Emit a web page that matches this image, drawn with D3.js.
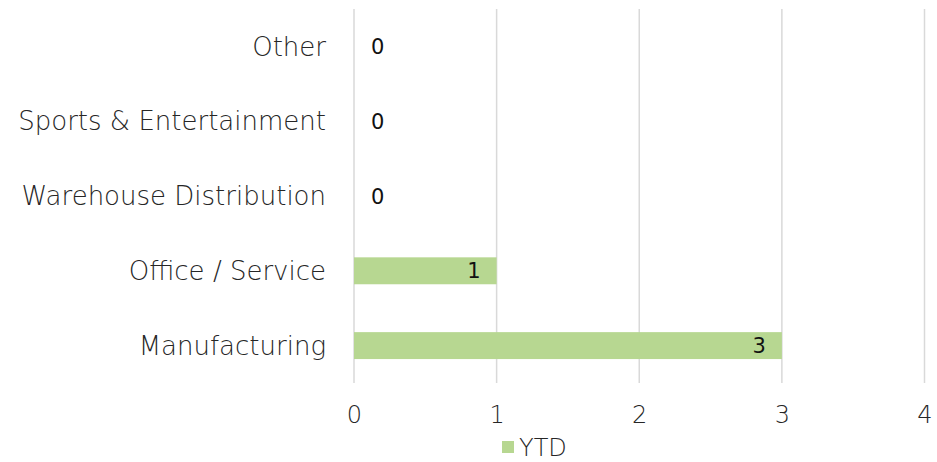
<!DOCTYPE html>
<html>
<head>
<meta charset="utf-8">
<script src="https://cdn.jsdelivr.net/npm/d3@7"></script>
<style>
  body { margin: 0; background: #fff; }
  svg text { font-family: "DejaVu Sans", sans-serif; font-weight: 200; fill: #262626; }
  svg text.val { font-family: "DejaVu Sans", Verdana, sans-serif; font-weight: 400; fill: #111; }
</style>
</head>
<body>
<div id="chart"></div>
<script>
// Data, top to bottom
const categories = ["Other", "Sports & Entertainment", "Warehouse Distribution", "Office / Service", "Manufacturing"];
const ytd = [0, 0, 0, 1, 3];
const xTicks = [0, 1, 2, 3, 4];
const seriesName = "YTD";

const width = 937;
const height = 462;
const plot = { left: 354, right: 924.5, top: 9, bottom: 383 };

const svg = d3.select("#chart")
  .append("svg")
  .attr("width", width)
  .attr("height", height);

const xScale = d3.scaleLinear()
  .domain([0, 4])
  .range([plot.left, plot.right]);

const yScale = d3.scaleBand()
  .domain(categories)
  .range([plot.top, plot.bottom])
  .paddingInner(0.64)
  .paddingOuter(0.32);

// Gridlines
svg.append("g")
  .selectAll("line")
  .data(xTicks)
  .join("line")
  .attr("x1", d => xScale(d))
  .attr("x2", d => xScale(d))
  .attr("y1", plot.top)
  .attr("y2", plot.bottom)
  .attr("stroke", "#d9d9d9")
  .attr("stroke-width", 1.5);

// Bars
const rows = categories.map((c, i) => ({ name: c, value: ytd[i] }));

svg.append("g")
  .selectAll("rect")
  .data(rows)
  .join("rect")
  .attr("x", xScale(0))
  .attr("y", d => yScale(d.name))
  .attr("width", d => xScale(d.value) - xScale(0))
  .attr("height", yScale.bandwidth())
  .attr("fill", "#b7d791");

// Value labels
svg.append("g")
  .selectAll("text")
  .data(rows)
  .join("text")
  .attr("class", "val")
  .attr("x", d => d.value === 0 ? xScale(0) + 17 : xScale(d.value) - 16)
  .attr("y", d => yScale(d.name) + yScale.bandwidth() / 2)
  .attr("dy", "0.36em")
  .attr("text-anchor", d => d.value === 0 ? "start" : "end")
  .attr("font-size", 21)
  .text(d => d.value);

// Category axis
const yAxis = svg.append("g")
  .attr("transform", `translate(${plot.left},0)`)
  .call(d3.axisLeft(yScale).tickSize(0).tickPadding(28));
yAxis.select(".domain").remove();
yAxis.selectAll("text")
  .attr("font-size", 26)
  .attr("dy", "0.35em")
  .attr("font-family", null)
  .attr("fill", null);

// Value axis
const xAxis = svg.append("g")
  .attr("transform", `translate(0,${plot.bottom})`)
  .call(d3.axisBottom(xScale).tickValues(xTicks).tickFormat(d3.format("d")).tickSize(0).tickPadding(23));
xAxis.select(".domain").remove();
xAxis.selectAll("text")
  .attr("font-size", 24)
  .attr("font-family", null)
  .attr("fill", null);

// Legend
const legend = svg.append("g").attr("transform", "translate(502,441)");
legend.append("rect")
  .attr("width", 12)
  .attr("height", 12)
  .attr("fill", "#b7d791");
legend.append("text")
  .attr("x", 17)
  .attr("y", 6)
  .attr("dy", "0.36em")
  .attr("font-size", 24)
  .text(seriesName);
</script>
</body>
</html>
